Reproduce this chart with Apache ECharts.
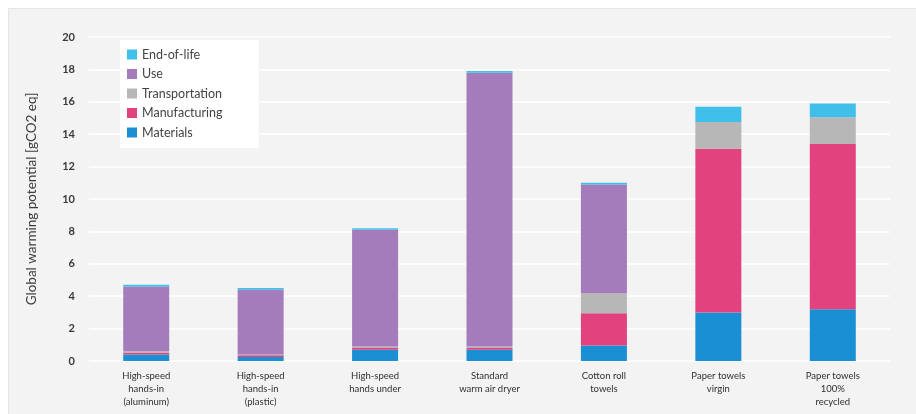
<!DOCTYPE html>
<html>
<head>
<meta charset="utf-8">
<script src="https://cdn.jsdelivr.net/npm/echarts@6/dist/echarts.min.js"></script>
<style>
  html, body { margin: 0; padding: 0; background: #ffffff; }
  #chart { width: 916px; height: 414px; }
</style>
</head>
<body>
<div id="chart"></div>
<script>
// Categories on the x axis
const categories = [
  'High-speed\nhands-in\n(aluminum)',
  'High-speed\nhands-in\n(plastic)',
  'High-speed\nhands under',
  'Standard\nwarm air dryer',
  'Cotton roll\ntowels',
  'Paper towels\nvirgin',
  'Paper towels\n100%\nrecycled'
];

// Stage values, gCO2 eq
const materials      = [0.40, 0.25, 0.70, 0.70, 0.95, 3.00, 3.20];
const manufacturing  = [0.10, 0.10, 0.10, 0.10, 2.00, 10.10, 10.20];
const transportation = [0.10, 0.05, 0.10, 0.10, 1.25, 1.65, 1.65];
const use            = [4.00, 4.00, 7.20, 16.90, 6.70, 0, 0];
const endOfLife      = [0.10, 0.10, 0.10, 0.10, 0.10, 0.95, 0.85];

const yTicks = [0, 2, 4, 6, 8, 10, 12, 14, 16, 18, 20];

const colors = {
  'Materials': '#1b8fd3',
  'Manufacturing': '#e2437f',
  'Transportation': '#b7b7b7',
  'Use': '#a47cbb',
  'End-of-life': '#3fbfe9'
};

const chart = echarts.init(document.getElementById('chart'));

const makeSeries = (name, data) => ({
  name: name,
  type: 'bar',
  stack: 'total',
  barWidth: 46,
  data: data,
  itemStyle: { color: colors[name] }
});

const option = {
  backgroundColor: '#ffffff',
  textStyle: { fontFamily: 'Lato, "Noto Sans", sans-serif' },
  graphic: [
    {
      type: 'rect',
      z: -10,
      left: 8,
      top: 8,
      shape: { width: 908, height: 406 },
      style: { fill: '#f3f3f3', stroke: '#e4e4e4', lineWidth: 1 }
    }
  ],
  legend: {
    orient: 'vertical',
    left: 120,
    top: 40,
    backgroundColor: '#ffffff',
    padding: [8, 36, 9, 7],
    itemWidth: 10,
    itemHeight: 10,
    itemGap: 6.5,
    icon: 'rect',
    data: ['End-of-life', 'Use', 'Transportation', 'Manufacturing', 'Materials'],
    textStyle: { color: '#444444', fontSize: 12.5 }
  },
  grid: {
    left: 89,
    right: 26,
    top: 37,
    bottom: 53,
    containLabel: false
  },
  xAxis: {
    type: 'category',
    data: categories,
    axisLine: { show: false },
    axisTick: { show: false },
    axisLabel: {
      color: '#2f2f2f',
      fontSize: 9.5,
      lineHeight: 13,
      margin: 8,
      interval: 0
    }
  },
  yAxis: {
    type: 'value',
    min: yTicks[0],
    max: yTicks[yTicks.length - 1],
    interval: 2,
    name: 'Global warming potential [gCO2 eq]',
    nameLocation: 'middle',
    nameGap: 50,
    nameTextStyle: { color: '#3a3a3a', fontSize: 13.5 },
    axisLine: { show: false },
    axisTick: { show: false },
    axisLabel: { color: '#3a3a3a', fontSize: 11, fontWeight: 'bold', margin: 14 },
    splitLine: { lineStyle: { color: '#ffffff', width: 1.5 } }
  },
  series: [
    makeSeries('Materials', materials),
    makeSeries('Manufacturing', manufacturing),
    makeSeries('Transportation', transportation),
    makeSeries('Use', use),
    makeSeries('End-of-life', endOfLife)
  ]
};

chart.setOption(option);
</script>
</body>
</html>
